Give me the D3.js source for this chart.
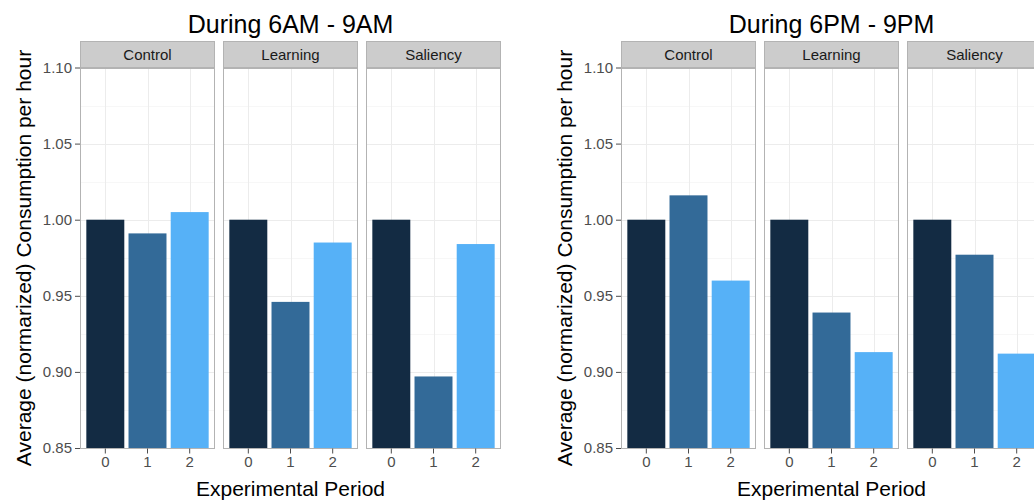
<!DOCTYPE html>
<html>
<head>
<meta charset="utf-8">
<script src="https://cdn.jsdelivr.net/npm/d3@7"></script>
<style>
    body { margin: 0; background: #ffffff; }
    svg { display: block; }
</style>
</head>
<body>
<div id="chart"></div>
<script>
// chart values
var periods = ['0', '1', '2'];
var groups = ['Control', 'Learning', 'Saliency'];
var morningValues = [
    [1.000, 0.991, 1.005],
    [1.000, 0.946, 0.985],
    [1.000, 0.897, 0.984]
];
var eveningValues = [
    [1.000, 1.016, 0.960],
    [1.000, 0.939, 0.913],
    [1.000, 0.977, 0.912]
];
var yTicks = [0.85, 0.90, 0.95, 1.00, 1.05, 1.10];
var yMinorTicks = [0.875, 0.925, 0.975, 1.025, 1.075];
var chartTitles = ['During 6AM - 9AM', 'During 6PM - 9PM'];
var xTitle = 'Experimental Period';
var yTitle = 'Average (normarized) Consumption per hour';
var barColors = ['#132b43', '#336a98', '#56b1f7'];

var width = 1034, height = 504;
var font = '"Liberation Sans", Arial, Helvetica, sans-serif';

var svg = d3.select('#chart').append('svg')
        .attr('width', width)
        .attr('height', height);

var grid = {
    panelTop: 68,
    panelBottom: 448,
    stripTop: 41,
    panelWidth: 135,
    panelGap: 8,
    firstLeft: 80
};

var y = d3.scaleLinear()
        .domain([0.85, 1.10])
        .range([grid.panelBottom, grid.panelTop - 0.5]);

// ggplot style: bars 0.9 wide, 0.6 units of space at each end
var x = d3.scaleBand()
        .domain(periods)
        .range([0, grid.panelWidth])
        .paddingInner(0.1)
        .paddingOuter(0.15);

var renderChart = function(offset, title, values) {
    var g = svg.append('g').attr('transform', 'translate(' + offset + ',0)');
    var left = grid.firstLeft;
    var right = left + 3 * grid.panelWidth + 2 * grid.panelGap;

    g.append('text')
            .attr('x', (left + right) / 2)
            .attr('y', 33)
            .attr('text-anchor', 'middle')
            .style('font', '25px ' + font)
            .attr('fill', '#000')
            .text(title);

    groups.forEach(function(name, i) {
        var px = left + i * (grid.panelWidth + grid.panelGap);
        var p = g.append('g').attr('transform', 'translate(' + px + ',0)');

        // strip
        p.append('rect')
                .attr('x', 0.5)
                .attr('y', grid.stripTop + 0.5)
                .attr('width', grid.panelWidth - 1)
                .attr('height', grid.panelTop - grid.stripTop - 1)
                .attr('fill', '#cccccc')
                .attr('stroke', '#b3b3b3');
        p.append('text')
                .attr('x', grid.panelWidth / 2)
                .attr('y', grid.stripTop + 19)
                .attr('text-anchor', 'middle')
                .style('font', '15px ' + font)
                .attr('fill', '#1a1a1a')
                .text(name);

        // grid lines
        p.selectAll('.minor').data(yMinorTicks).enter().append('line')
                .attr('x1', 0).attr('x2', grid.panelWidth)
                .attr('y1', function(d) { return Math.round(y(d)) + 0.5; })
                .attr('y2', function(d) { return Math.round(y(d)) + 0.5; })
                .attr('stroke', '#f7f7f7');
        p.selectAll('.major').data(yTicks).enter().append('line')
                .attr('x1', 0).attr('x2', grid.panelWidth)
                .attr('y1', function(d) { return Math.round(y(d)) + 0.5; })
                .attr('y2', function(d) { return Math.round(y(d)) + 0.5; })
                .attr('stroke', '#ececec');
        p.selectAll('.vgrid').data(periods).enter().append('line')
                .attr('x1', function(d) { return Math.round(x(d) + x.bandwidth() / 2) + 0.5; })
                .attr('x2', function(d) { return Math.round(x(d) + x.bandwidth() / 2) + 0.5; })
                .attr('y1', grid.panelTop).attr('y2', grid.panelBottom)
                .attr('stroke', '#ececec');

        // bars
        p.selectAll('.bar').data(values[i]).enter().append('rect')
                .attr('x', function(d, j) { return x(periods[j]); })
                .attr('width', x.bandwidth())
                .attr('y', function(d) { return y(d); })
                .attr('height', function(d) { return grid.panelBottom - y(d); })
                .attr('fill', function(d, j) { return barColors[j]; });

        // panel border
        p.append('rect')
                .attr('x', 0.5)
                .attr('y', grid.panelTop + 0.5)
                .attr('width', grid.panelWidth - 1)
                .attr('height', grid.panelBottom - grid.panelTop)
                .attr('fill', 'none')
                .attr('stroke', '#b3b3b3');

        // x axis
        var xAxis = p.append('g')
                .attr('transform', 'translate(0,' + (grid.panelBottom + 0.5) + ')')
                .call(d3.axisBottom(x).tickSize(5).tickPadding(3));
        xAxis.select('.domain').remove();
        xAxis.selectAll('line').attr('stroke', '#4d4d4d');
        xAxis.selectAll('text')
                .style('font', '15px ' + font)
                .attr('fill', '#4d4d4d');
    });

    // y axis
    var yAxis = g.append('g')
            .attr('transform', 'translate(' + left + ',0)')
            .call(d3.axisLeft(y).tickValues(yTicks).tickFormat(d3.format('.2f')).tickSize(5).tickPadding(3));
    yAxis.select('.domain').remove();
    yAxis.selectAll('line').attr('stroke', '#4d4d4d');
    yAxis.selectAll('text')
            .style('font', '15px ' + font)
            .attr('fill', '#4d4d4d');

    // axis titles
    g.append('text')
            .attr('x', (left + right) / 2)
            .attr('y', 496)
            .attr('text-anchor', 'middle')
            .style('font', '21px ' + font)
            .attr('fill', '#000')
            .text(xTitle);

    g.append('text')
            .attr('text-anchor', 'middle')
            .attr('transform', 'translate(31,' + ((grid.panelTop + grid.panelBottom) / 2) + ')rotate(-90)')
            .style('font', '21px ' + font)
            .attr('fill', '#000')
            .text(yTitle);
};

renderChart(0, chartTitles[0], morningValues);
renderChart(541, chartTitles[1], eveningValues);
</script>
</body>
</html>
